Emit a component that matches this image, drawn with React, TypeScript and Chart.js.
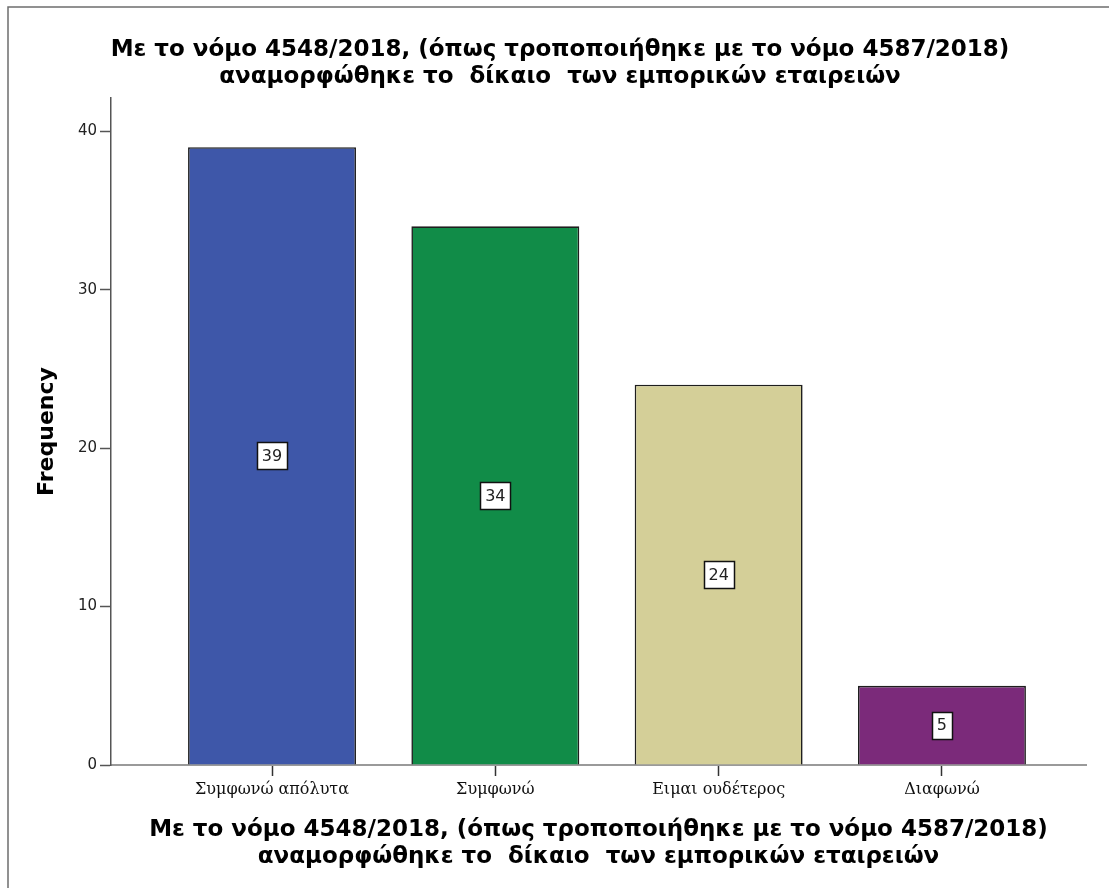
import React, { useEffect, useRef } from "react";
import { Chart, registerables } from "chart.js";

Chart.register(...registerables);

const titleLines = [
  "Με το νόμο 4548/2018, (όπως τροποποιήθηκε με το νόμο 4587/2018)",
  "αναμορφώθηκε το  δίκαιο  των εμπορικών εταιρειών",
];
const categories = ["Συμφωνώ απόλυτα", "Συμφωνώ", "Ειμαι ουδέτερος", "Διαφωνώ"];
const frequencies = [39, 34, 24, 5];
const barColors = ["#3e57a9", "#118c48", "#d4cf98", "#7b2a7a"];
const yTicks = [0, 10, 20, 30, 40];
const yAxisTitle = "Frequency";

const frame = {
  id: "frame",
  beforeDraw(chart: any) {
    const ctx = chart.ctx;
    ctx.save();
    ctx.strokeStyle = "#6e6e6e";
    ctx.lineWidth = 1.5;
    ctx.beginPath();
    ctx.moveTo(8, chart.height);
    ctx.lineTo(8, 7);
    ctx.lineTo(chart.width, 7);
    ctx.stroke();
    ctx.restore();
  },
};

const valueBoxes = {
  id: "valueBoxes",
  afterDatasetsDraw(chart: any) {
    const ctx = chart.ctx;
    const meta = chart.getDatasetMeta(0);
    ctx.save();
    ctx.font = "16px 'DejaVu Sans'";
    ctx.textAlign = "center";
    ctx.textBaseline = "middle";
    meta.data.forEach((el: any, i: number) => {
      const text = String(frequencies[i]);
      const w = Math.round(ctx.measureText(text).width + 10);
      const h = 27;
      const cx = el.x;
      const cy = (el.y + el.base) / 2;
      const bx = Math.round(cx - w / 2) + 0.5;
      const by = Math.round(cy - h / 2) + 0.5;
      ctx.fillStyle = "#ffffff";
      ctx.fillRect(bx, by, w, h);
      ctx.strokeStyle = "#111111";
      ctx.lineWidth = 1.5;
      ctx.strokeRect(bx, by, w, h);
      ctx.fillStyle = "#222222";
      ctx.fillText(text, cx, cy + 1);
    });
    ctx.restore();
  },
};

export default function App() {
  const ref = useRef<HTMLCanvasElement>(null);
  useEffect(() => {
    if (!ref.current) return;
    const chart = new Chart(ref.current, {
      type: "bar",
      data: {
        datasets: [
          {
            data: frequencies.map((v, i) => ({ x: i + 1, y: v })),
            backgroundColor: barColors,
            borderColor: "#1e1e1e",
            borderWidth: 1.6,
            barPercentage: 0.752,
            categoryPercentage: 1,
          },
        ],
      },
      options: {
        responsive: false,
        animation: false,
        devicePixelRatio: 1,
        layout: { padding: { left: 34, right: 23, top: 0, bottom: 0 } },
        plugins: {
          legend: { display: false },
          tooltip: { enabled: false },
          title: {
            display: true,
            text: titleLines,
            color: "#000000",
            font: { family: "'DejaVu Sans'", size: 23, weight: "bold", lineHeight: 1.17 },
            padding: { top: 36.5, bottom: 7.7 },
          },
        },
        scales: {
          x: {
            type: "linear",
            offset: false,
            min: 0.279,
            max: 4.645,
            afterBuildTicks: (scale: any) => {
              scale.ticks = categories.map((_, i) => ({ value: i + 1 }));
            },
            afterFit: (scale: any) => {
              scale.height = 123;
            },
            ticks: {
              autoSkip: false,
              maxRotation: 0,
              padding: 4.4,
              color: "#111111",
              font: { family: "'DejaVu Serif'", size: 16 },
              callback: (v: any) => categories[Math.round(Number(v)) - 1] ?? "",
            },
            grid: {
              offset: false,
              drawOnChartArea: false,
              drawTicks: true,
              tickLength: 11,
              tickColor: "#333333",
              tickWidth: 1.5,
            },
            border: { color: "#9a9a9a", width: 2 },
            title: {
              display: true,
              text: titleLines,
              color: "#000000",
              font: { family: "'DejaVu Sans'", size: 23, weight: "bold", lineHeight: 1.17 },
              padding: { top: 0, bottom: 17.5 },
            },
          },
          y: {
            min: 0,
            max: 42.1,
            afterBuildTicks: (scale: any) => {
              scale.ticks = yTicks.map((v) => ({ value: v }));
            },
            afterFit: (scale: any) => {
              scale.width = 77;
            },
            ticks: {
              includeBounds: false,
              padding: 3,
              color: "#222222",
              font: { family: "'DejaVu Sans'", size: 15 },
            },
            grid: {
              drawOnChartArea: false,
              drawTicks: true,
              tickLength: 11,
              tickColor: "#555555",
              tickWidth: 1.5,
            },
            border: { color: "#555555", width: 1.5 },
            title: {
              display: true,
              text: yAxisTitle,
              color: "#000000",
              font: { family: "'DejaVu Sans'", size: 22, weight: "bold", lineHeight: 1.2 },
              padding: { top: 0, bottom: 0 },
            },
          },
        },
      },
      plugins: [frame, valueBoxes],
    });
    return () => chart.destroy();
  }, []);
  return (
    <div style={{ position: "absolute", left: 0, top: 0, width: 1109, height: 888, background: "#ffffff" }}>
      <canvas ref={ref} width={1109} height={888} style={{ display: "block" }} />
    </div>
  );
}
